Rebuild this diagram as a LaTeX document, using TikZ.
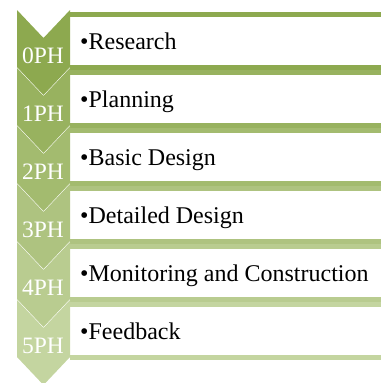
\documentclass[tikz,border=0pt]{standalone}
\usepackage{fontspec}
\setmainfont{Liberation Serif}
\definecolor{ph0}{RGB}{141,169,79}
\definecolor{ph1}{RGB}{152,178,95}
\definecolor{ph2}{RGB}{163,187,111}
\definecolor{ph3}{RGB}{174,195,128}
\definecolor{ph4}{RGB}{185,204,144}
\definecolor{ph5}{RGB}{196,213,160}
\begin{document}
\begin{tikzpicture}[x=1pt, y=-1pt,
  phase/.style={text=white, font=\fontsize{23.5}{26}\selectfont, inner sep=0pt, anchor=base},
  item/.style={text=black, font=\fontsize{24}{26}\selectfont, inner sep=0pt, anchor=base west}]
\useasboundingbox (0,0) rectangle (381,383);
% box rules
\fill[ph0] (70,12) rectangle (381,17);
\fill[ph0] (70,65) rectangle (381,70);
\fill[ph1] (70,70) rectangle (381,75);
\fill[ph1] (70,123) rectangle (381,128);
\fill[ph2] (70,128) rectangle (381,133);
\fill[ph2] (70,181) rectangle (381,186);
\fill[ph3] (70,186) rectangle (381,191);
\fill[ph3] (70,239) rectangle (381,244);
\fill[ph4] (70,244) rectangle (381,249);
\fill[ph4] (70,297) rectangle (381,302);
\fill[ph5] (70,302) rectangle (381,307);
\fill[ph5] (70,355) rectangle (381,360);
% chevrons
\fill[ph0] (17,10) -- (43.5,38) -- (70,10) -- (70,67) -- (43.5,95) -- (17,67) -- cycle;
\fill[ph1] (17,68) -- (43.5,96) -- (70,68) -- (70,125) -- (43.5,153) -- (17,125) -- cycle;
\fill[ph2] (17,126) -- (43.5,154) -- (70,126) -- (70,183) -- (43.5,211) -- (17,183) -- cycle;
\fill[ph3] (17,184) -- (43.5,212) -- (70,184) -- (70,241) -- (43.5,269) -- (17,241) -- cycle;
\fill[ph4] (17,242) -- (43.5,270) -- (70,242) -- (70,299) -- (43.5,327) -- (17,299) -- cycle;
\fill[ph5] (17,300) -- (43.5,328) -- (70,300) -- (70,357) -- (43.5,385) -- (17,357) -- cycle;
% phase labels
\node[phase] (p0) at (43,63) {0PH};
\node[phase] (p1) at (43,121) {1PH};
\node[phase] (p2) at (43,179) {2PH};
\node[phase] (p3) at (43,237) {3PH};
\node[phase] (p4) at (43,295) {4PH};
\node[phase] (p5) at (43,353) {5PH};
% items
\node[item] (s0) at (80,49) {•Research};
\node[item] (s1) at (80,107) {•Planning};
\node[item] (s2) at (80,165) {•Basic Design};
\node[item] (s3) at (80,223) {•Detailed Design};
\node[item] (s4) at (80,281) {•Monitoring and Construction};
\node[item] (s5) at (80,339) {•Feedback};
\end{tikzpicture}
\end{document}
